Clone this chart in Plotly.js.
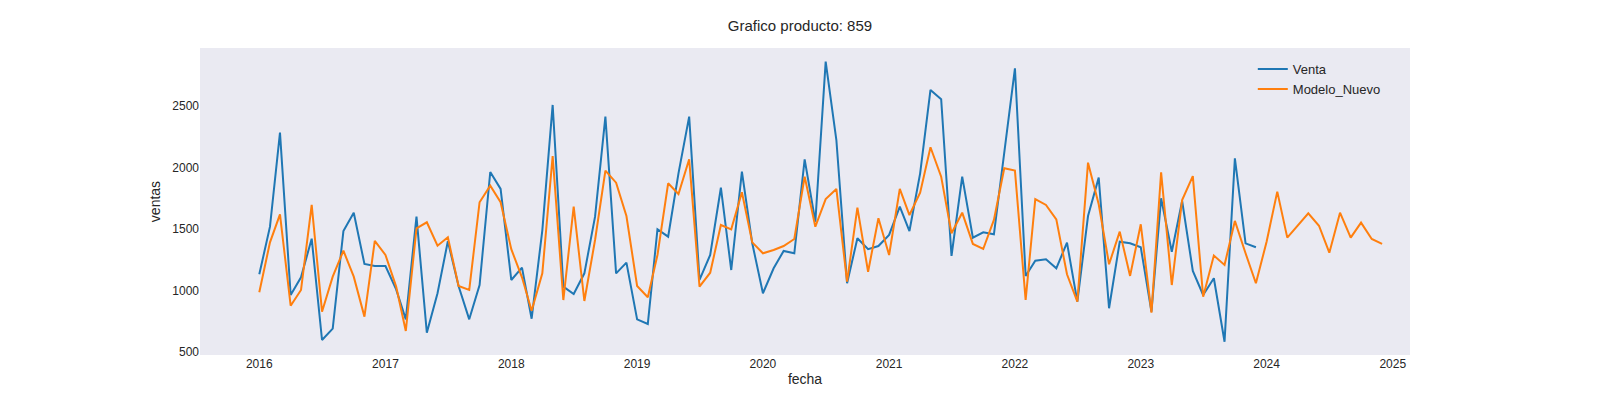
<!DOCTYPE html>
<html><head><meta charset="utf-8">
<script src="https://cdn.plot.ly/plotly-3.0.1.min.js"></script>
<style>body{margin:0;background:#fff}</style>
</head><body><div id="c" style="width:1600px;height:400px"></div>
<script>
const venta = [
1133,1520,2285,965,1109,1423,599,691,1485,1634,1217,1200,
1200,1011,767,1602,658,979,1402,1038,767,1046,1965,1827,
1087,1187,772,1491,2510,1033,973,1141,1602,2415,1141,1228,
767,729,1499,1439,1954,2415,1087,1290,1837,1168,1967,1385,
979,1182,1323,1304,2068,1560,2862,2225,1060,1426,1337,1363,
1453,1683,1485,1954,2632,2556,1282,1927,1431,1475,1458,2144,
2808,1120,1244,1255,1182,1390,911,1607,1919,857,1398,1385,
1353,829,1751,1317,1729,1160,965,1101,585,2076,1385,1353];
const modelo = [
987,1393,1621,878,1006,1697,829,1114,1325,1114,789,1404,
1290,1033,672,1507,1556,1366,1434,1038,1006,1719,1854,1719,
1337,1109,836,1141,2095,924,1683,916,1412,1976,1878,1607,
1038,946,1290,1873,1786,2068,1033,1146,1534,1499,1800,1393,
1304,1331,1363,1420,1927,1520,1745,1827,1073,1675,1154,1589,
1290,1827,1615,1797,2166,1927,1467,1634,1380,1339,1575,1995,
1976,924,1745,1697,1580,1133,911,2041,1702,1215,1480,1120,
1540,821,1963,1046,1737,1932,951,1285,1209,1567,1304,1060,
1398,1805,1431,1534,1629,1528,1309,1634,1431,1553,1420,1380];
const startYear = 2016;
const tickYears = ['2016','2017','2018','2019','2020','2021','2022','2023','2024','2025'];
function monthDates(n){const d=[];for(let i=0;i<n;i++){const y=startYear+Math.floor(i/12),m=i%12+1;d.push(y+'-'+String(m).padStart(2,'0')+'-01');}return d;}
const font={family:'Liberation Sans, Arial, sans-serif',color:'#262626',size:12};
Plotly.newPlot('c',[
 {x:monthDates(venta.length),y:venta,type:'scatter',mode:'lines',name:'Venta',line:{color:'#1f77b4',width:2}},
 {x:monthDates(modelo.length),y:modelo,type:'scatter',mode:'lines',name:'Modelo_Nuevo',line:{color:'#ff7f0e',width:2}}
],{
 width:1600,height:400,font:font,paper_bgcolor:'#fff',plot_bgcolor:'#eaeaf2',
 margin:{l:200,r:190,t:48,b:45},
 title:{text:'Grafico producto: 859',x:0.5,xanchor:'center',y:0.95,font:{size:15,color:'#262626'}},
 xaxis:{type:'date',range:['2015-07-13','2025-02-20'],tickvals:tickYears.map(y=>y+'-01-01'),ticktext:tickYears,showgrid:false,zeroline:false,ticks:'',title:{text:'fecha',standoff:4}},
 yaxis:{range:[477,2973],tickvals:[500,1000,1500,2000,2500],showgrid:false,zeroline:false,ticks:'',title:{text:'ventas',standoff:8}},
 legend:{x:0.98,xanchor:'right',y:0.98,yanchor:'top',bgcolor:'rgba(0,0,0,0)',font:{size:13}},
 showlegend:true
},{displayModeBar:false});
</script></body></html>
